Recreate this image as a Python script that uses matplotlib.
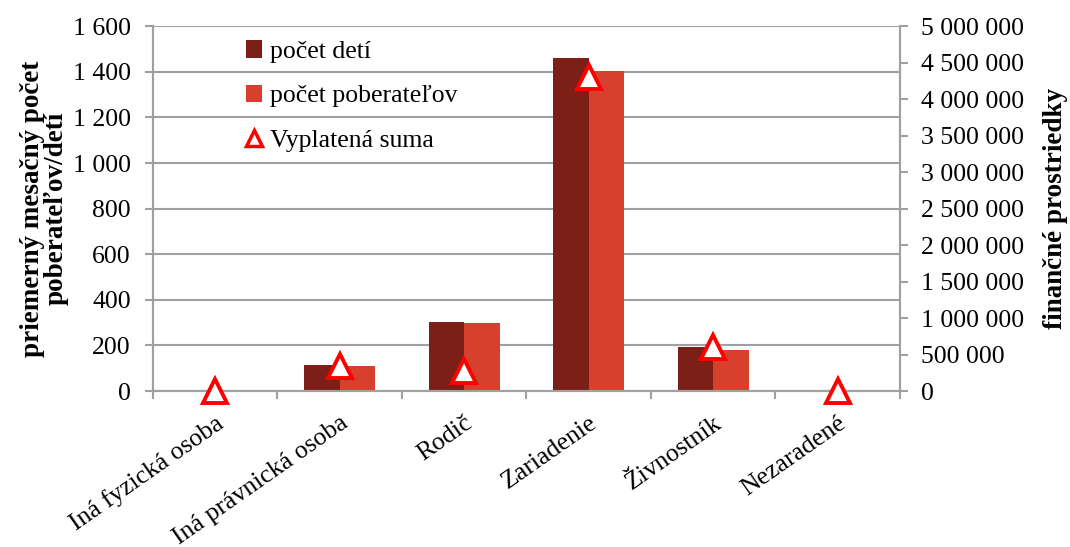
import matplotlib
matplotlib.use("Agg")
import matplotlib.pyplot as plt
import numpy as np
from matplotlib.ticker import FuncFormatter, MultipleLocator
from matplotlib.lines import Line2D
from matplotlib.patches import Patch

plt.rcParams["font.family"] = ["Liberation Serif", "DejaVu Serif"]

# data
categories = [
    "Iná fyzická osoba",
    "Iná právnická osoba",
    "Rodič",
    "Zariadenie",
    "Živnostník",
    "Nezaradené",
]
pocet_deti = [0, 115, 303, 1461, 192, 1]
pocet_poberatelov = [0, 110, 300, 1403, 180, 1]
vyplatena_suma = [0, 350000, 280000, 4300000, 600000, 0]

DARK = "#7B1F17"
RED = "#D8402E"
GRID = "#A0A0A0"
FS = 18.5


def space_thousands(value, _pos=None):
    return f"{int(round(value)):,}".replace(",", " ")


fig = plt.figure(figsize=(10.7, 5.47), dpi=100)
ax = fig.add_axes([0.143, 0.285, 0.698, 0.667])
ax2 = ax.twinx()

x = np.arange(len(categories))
width = 0.285

ax.bar(x - width / 2, pocet_deti, width, color=DARK, zorder=2)
ax.bar(x + width / 2, pocet_poberatelov, width, color=RED, zorder=2)

ax2.plot(
    x, vyplatena_suma, linestyle="none", marker="^", markersize=17,
    markerfacecolor="white", markeredgecolor="#FF0000", markeredgewidth=2.8,
    clip_on=False, zorder=5,
)

ax.set_xlim(-0.5, len(categories) - 0.5)
ax.set_ylim(0, 1600)
ax2.set_ylim(0, 5000000)
ax.yaxis.set_major_locator(MultipleLocator(200))
ax2.yaxis.set_major_locator(MultipleLocator(500000))
ax.yaxis.set_major_formatter(FuncFormatter(space_thousands))
ax2.yaxis.set_major_formatter(FuncFormatter(space_thousands))

ax.grid(axis="y", color=GRID, linewidth=1.5, zorder=0)
ax.set_axisbelow(True)

# category ticks sit on the boundaries, labels in the middle
ax.set_xticks(np.arange(len(categories) + 1) - 0.5)
ax.set_xticklabels([])
ax.set_xticks(x, minor=True)
ax.set_xticklabels(categories, minor=True, rotation=35, ha="right",
                   rotation_mode="anchor", fontsize=FS)
ax.tick_params(axis="x", which="minor", length=0, pad=15)
ax.tick_params(axis="x", which="major", length=6, color=GRID, width=1.5)
ax.tick_params(axis="y", labelsize=FS, length=6, color=GRID, width=1.5, pad=10)
ax2.tick_params(axis="y", labelsize=FS, length=6, color=GRID, width=1.5, pad=9)

for a in (ax, ax2):
    a.spines["top"].set_visible(False)
    for side in ("left", "right", "bottom"):
        a.spines[side].set_color(GRID)
        a.spines[side].set_linewidth(1.5)

ax.set_ylabel("priemerný mesačný počet\npoberateľov/detí", fontsize=19.5,
              fontweight="bold", labelpad=3, linespacing=0.95)
ax2.set_ylabel("finančné prostriedky", fontsize=19.5, fontweight="bold",
               labelpad=14)

handles = [
    Patch(facecolor=DARK, edgecolor="none", label="počet detí"),
    Patch(facecolor=RED, edgecolor="none", label="počet poberateľov"),
    Line2D([], [], linestyle="none", marker="^", markersize=11,
           markerfacecolor="white", markeredgecolor="#FF0000",
           markeredgewidth=2.5, label="Vyplatená suma"),
]
leg = ax2.legend(handles=handles, loc="upper left",
                 bbox_to_anchor=(0.105, 1.0), frameon=False, fontsize=FS,
                 handlelength=0.65, handleheight=0.65, handletextpad=0.3,
                 labelspacing=0.85, borderaxespad=0.15)

fig.savefig("out.png", dpi=100)
